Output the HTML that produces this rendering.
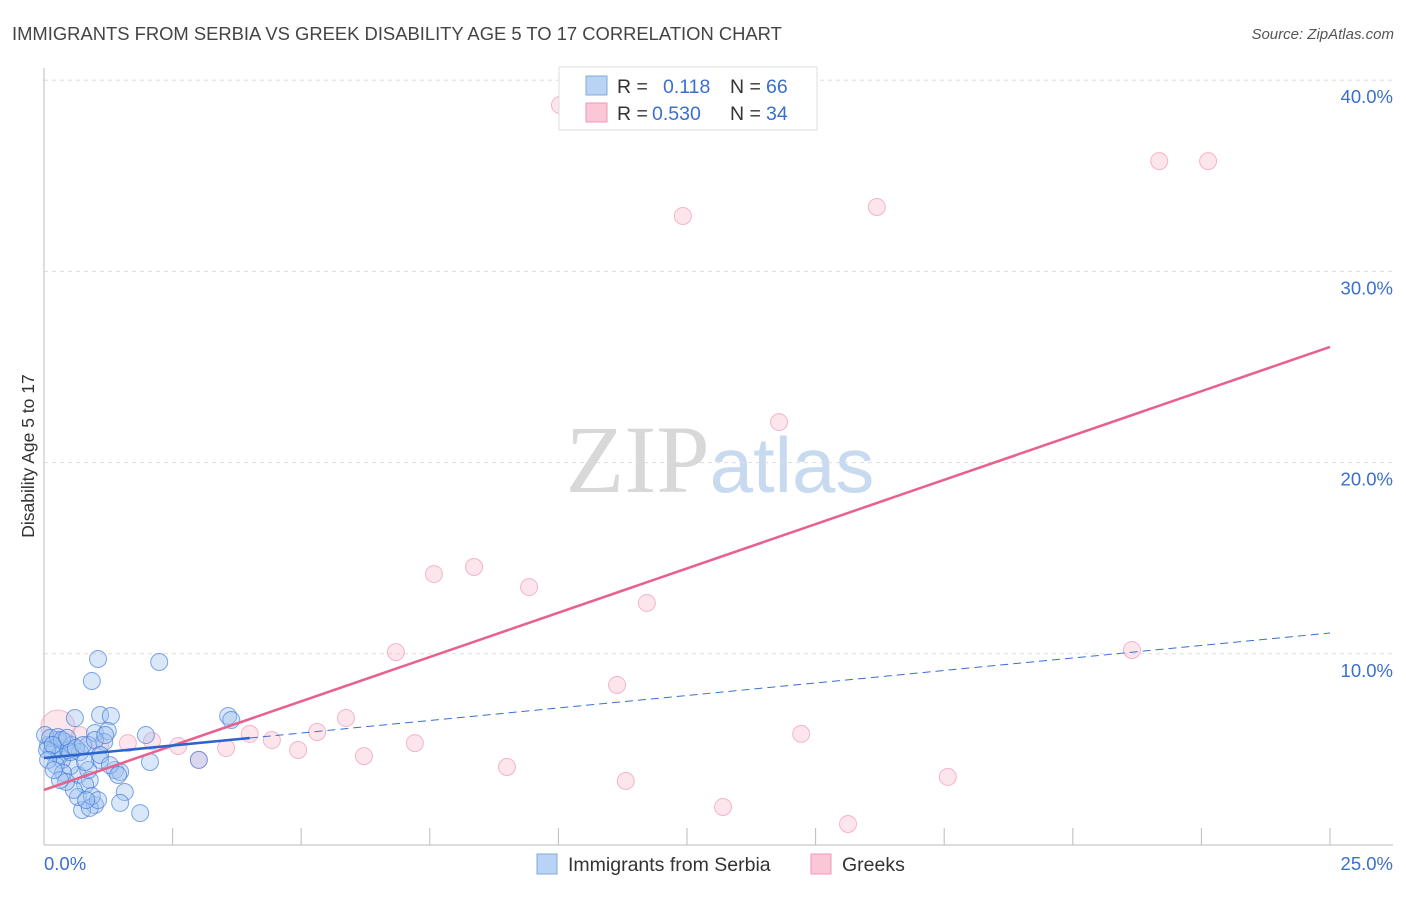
<!DOCTYPE html>
<html><head><meta charset="utf-8"><style>
body{margin:0;background:#fff;font-family:"Liberation Sans",sans-serif}
</style></head><body>
<svg id="c" width="1406" height="892" xmlns="http://www.w3.org/2000/svg" font-family="Liberation Sans, sans-serif">
<text x="12" y="40" font-size="18.4" fill="#444">IMMIGRANTS FROM SERBIA VS GREEK DISABILITY AGE 5 TO 17 CORRELATION CHART</text>
<text x="1394" y="39" font-size="15" fill="#555" font-style="italic" text-anchor="end">Source: ZipAtlas.com</text>
<text x="720" y="492" font-size="96" fill="#ddd" text-anchor="middle" font-family="Liberation Serif, serif"><tspan fill="#d8d8d8">ZIP</tspan><tspan fill="#c8daf0" font-family="Liberation Sans, sans-serif" font-size="78">atlas</tspan></text>
<text transform="translate(34,456) rotate(-90)" font-size="17.5" fill="#333" text-anchor="middle">Disability Age 5 to 17</text>
<g id="grid"></g><g id="pts"></g><g id="lines"></g>
<g>
<rect x="559" y="67" width="258" height="63" fill="#fff" stroke="#ddd"/>
<rect x="586" y="76" width="21" height="19" fill="#b9d3f5" stroke="#7fa9e0"/>
<rect x="586" y="103" width="21" height="19" fill="#fbc7d6" stroke="#ef9ab4"/>
<text x="617" y="93" font-size="19.5" fill="#333">R = </text><text x="663" y="93" font-size="19.5" fill="#3a6fd0">0.118</text>
<text x="730" y="93" font-size="19.5" fill="#333">N = </text><text x="766" y="93" font-size="19.5" fill="#3a6fd0">66</text>
<text x="617" y="120" font-size="19.5" fill="#333">R = </text><text x="652" y="120" font-size="19.5" fill="#3a6fd0">0.530</text>
<text x="730" y="120" font-size="19.5" fill="#333">N = </text><text x="766" y="120" font-size="19.5" fill="#3a6fd0">34</text>
</g>
<g>
<rect x="537" y="854" width="20" height="20" fill="#b9d3f5" stroke="#7fa9e0"/>
<text x="568" y="871" font-size="19.5" fill="#333">Immigrants from Serbia</text>
<rect x="811" y="854" width="20" height="20" fill="#fbc7d6" stroke="#ef9ab4"/>
<text x="842" y="871" font-size="19.5" fill="#333">Greeks</text>
</g>
</svg>
<script>
const blueX=[1.05,2.24,0.93,1.09,1.30,0.60,3.58,3.64,0.99,1.24,1.98,0.27,0.08,0.41,0.86,2.06,3.01,0.66,1.38,1.48,0.51,0.35,0.89,0.80,1.09,1.57,1.48,0.99,0.74,0.89,1.87,0.66,0.21,0.16,0.31,0.47,0.54,0.70,0.23,0.37,0.86,1.17,0.02,0.12,0.27,0.35,0.45,0.51,0.62,0.76,0.06,0.17,0.80,0.99,1.09,1.28,1.44,0.58,0.43,0.31,0.93,1.05,1.19,0.08,0.19,0.82];
const blueY=[9.73,9.57,8.58,6.80,6.75,6.64,6.75,6.54,5.86,5.96,5.75,5.49,5.23,5.39,5.23,4.34,4.45,3.66,3.92,3.82,4.13,4.45,3.40,3.14,4.45,2.77,2.20,2.09,1.83,1.94,1.67,2.51,5.07,4.86,4.71,4.97,5.23,4.86,4.18,3.77,3.92,5.39,5.75,5.60,5.65,5.49,5.60,4.86,5.07,5.23,4.97,5.23,4.34,5.49,4.71,4.18,3.66,2.88,3.30,3.40,2.56,2.35,5.75,4.45,3.92,2.35];
const pinkX=[10.03,12.42,16.19,21.68,22.63,14.29,7.58,8.36,9.43,11.72,6.84,21.15,11.14,5.87,5.31,4.00,4.43,7.21,14.72,3.54,4.94,6.22,3.01,2.61,1.63,2.10,9.00,11.31,17.57,13.20,15.63,0.27,1.09,0.70];
const pinkY=[38.70,32.90,33.37,35.77,35.77,22.12,14.17,14.54,13.49,12.66,10.09,10.20,8.37,6.64,5.91,5.81,5.49,5.33,5.81,5.07,4.97,4.65,4.45,5.18,5.33,5.44,4.08,3.35,3.56,1.99,1.10,6.17,5.23,5.75];
const yTicks=[10,20,30,40];
const yTickLabels=["10.0%","20.0%","30.0%","40.0%"];
const xTickVals=[0,2.5,5,7.5,10,12.5,15,17.5,20,22.5,25];
const xEndLabels=["0.0%","25.0%"];
const pinkFit=[2.88,26.05];
const blueFit=[4.55,11.09];
const blueSolidEnd=4.0;
const X=v=>44+v*51.44, Y=v=>845-v*19.12;
const NS="http://www.w3.org/2000/svg";
function mk(tag,at,parent){const e=document.createElementNS(NS,tag);for(const k in at)e.setAttribute(k,at[k]);parent.appendChild(e);return e;}
const g=document.getElementById('grid'),p=document.getElementById('pts'),l=document.getElementById('lines');
yTicks.forEach((t,i)=>{
 const ln=mk('line',{x1:44,x2:1393,y1:Y(t),y2:Y(t),stroke:'#ddd','stroke-dasharray':'4,4'},g);
 
 
 const tx=mk('text',{x:1393,y:Y(t)+23,'font-size':18.5,fill:'#3a6fd0','text-anchor':'end'},g);tx.textContent=yTickLabels[i];
 
 
});
const ax=mk('line',{x1:44,x2:44,y1:68,y2:845,stroke:'#bbb'},g);


const bx=mk('line',{x1:44,x2:1393,y1:845,y2:845,stroke:'#bbb'},g);


xTickVals.forEach(v=>{const t=mk('line',{x1:X(v),x2:X(v),y1:828,y2:845,stroke:'#bbb'},g);
 
 });
[[0,'start'],[25,'end']].forEach((a,i)=>{const t=mk('text',{x:i?1393:44,y:870,'font-size':18.5,fill:'#3a6fd0','text-anchor':a[1]},g);t.textContent=xEndLabels[i];
 
 });
pinkX.forEach((x,i)=>{const c=mk('circle',{cx:X(x),cy:Y(pinkY[i]),r:i==31?17:8.5,fill:'rgba(248,180,200,0.35)',stroke:'rgba(235,130,165,0.55)','stroke-width':1},p);
 
 });
blueX.forEach((x,i)=>{const c=mk('circle',{cx:X(x),cy:Y(blueY[i]),r:8.5,fill:'rgba(160,195,240,0.4)',stroke:'rgba(60,120,215,0.65)','stroke-width':1},p);
 
 });
const bAt=v=>blueFit[0]+(blueFit[1]-blueFit[0])*v/25;
const pl=mk('line',{x1:X(0),y1:Y(pinkFit[0]),x2:X(25),y2:Y(pinkFit[1]),stroke:'#e8618c','stroke-width':2.5},l);


const bd=mk('line',{x1:X(blueSolidEnd),y1:Y(bAt(blueSolidEnd)),x2:X(25),y2:Y(blueFit[1]),stroke:'#3a6fd0','stroke-width':1,'stroke-dasharray':'8,5'},l);


const bs=mk('line',{x1:X(0),y1:Y(blueFit[0]),x2:X(blueSolidEnd),y2:Y(bAt(blueSolidEnd)),stroke:'#2a64cc','stroke-width':2.5},l);


</script>
</body></html>
